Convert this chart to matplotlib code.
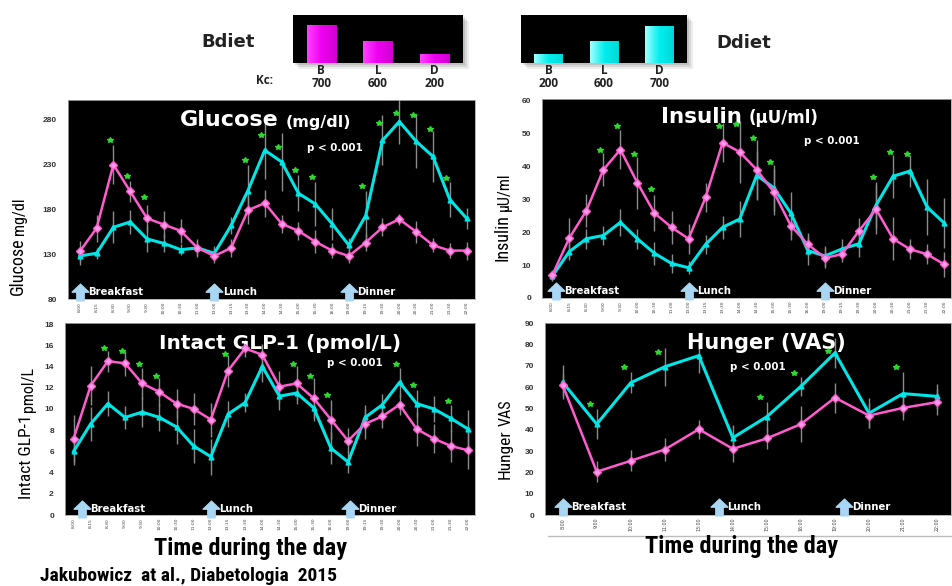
import numpy as np
import matplotlib
matplotlib.use('Agg')
import matplotlib.pyplot as plt
from matplotlib import font_manager
from matplotlib.path import Path
from matplotlib.transforms import blended_transform_factory
import matplotlib.patches as mpatches

_fonts = font_manager.fontManager.ttflist
_all_names = {f.name for f in _fonts}
_bold_names = {f.name for f in _fonts if f.weight in (700, 'bold')}
NARROW_KW = {'family': 'Liberation Sans'}
for cand in ['Liberation Sans Narrow', 'Arial Narrow', 'Archivo Narrow', 'Roboto Condensed',
             'PT Sans Narrow', 'Open Sans Condensed', 'IBM Plex Sans Condensed',
             'Fira Sans Condensed', 'Encode Sans Condensed', 'Sofia Sans Condensed',
             'Barlow Semi Condensed', 'Saira SemiCondensed']:
    if cand in _all_names and cand in _bold_names:
        NARROW_KW = {'family': cand}
        break
WIDE = 'DejaVu Sans'

# ---------------- data ----------------
times24 = ["8:00", "8:15", "8:30", "9:00", "9:30", "10:00", "10:30", "11:00",
           "13:00", "13:15", "13:30", "14:00", "14:30", "15:00", "15:30", "16:00",
           "19:00", "19:15", "19:30", "20:00", "20:30", "21:00", "21:30", "22:00"]
times12 = ["8:00", "9:00", "10:00", "11:00", "13:00", "14:00", "15:00", "16:00",
           "19:00", "20:00", "21:00", "22:00"]

inset_labels = ["B", "L", "D"]
bdiet_kcal = [700, 600, 200]
ddiet_kcal = [200, 600, 700]
bdiet_bar_height = [38, 22, 9]
ddiet_bar_height = [9, 22, 37]

glucose_b = [133, 159, 230, 200, 170, 163, 156, 137, 128, 137, 179, 187,
             164, 156, 144, 134, 128, 143, 160, 169, 155, 140, 134, 134]
glucose_b_err = [12, 15, 22, 12, 15, 15, 13, 10, 8, 10, 15, 15,
                 10, 10, 13, 8, 8, 10, 10, 6, 12, 8, 8, 10]
glucose_d = [128, 131, 160, 166, 147, 142, 135, 137, 131, 162, 201, 246,
             233, 198, 186, 164, 140, 173, 257, 278, 256, 239, 191, 170]
glucose_d_err = [10, 6, 18, 13, 15, 10, 6, 8, 8, 10, 28, 32,
                 32, 20, 25, 18, 8, 28, 28, 25, 30, 28, 20, 12]
glucose_star_idx = [2, 3, 4, 10, 11, 12, 13, 14, 17, 18, 19, 20, 21, 22]
glucose_star_val = [257, 217, 194, 235, 263, 250, 224, 216, 206, 276, 287, 285, 270, 215]

insulin_b = [6.9, 18.2, 26.5, 39, 45.1, 35, 25.8, 21.5, 18, 30.6, 47.2, 44.4,
             39, 32.2, 22, 16.3, 12.2, 13.3, 20.4, 27, 18, 14.8, 13.3, 10.2]
insulin_b_err = [1.5, 6, 5, 5, 6, 8, 5.5, 5, 4.5, 4.5, 6, 9.5,
                 9, 7, 4.5, 3.5, 3, 2.5, 4, 7.5, 6.5, 3, 3, 3.8]
insulin_d = [6.6, 14.1, 18, 19, 23, 18, 13.6, 10.5, 9.2, 16.3, 21.5, 24,
             37.3, 33.5, 25.8, 14.4, 12.8, 14.9, 16.5, 28.2, 37, 38.6, 27.6, 22.8]
insulin_d_err = [1.5, 2.5, 3, 3, 4, 3, 3.5, 3, 2, 3, 3.5, 5.5,
                 7.5, 7, 6.5, 4.5, 3, 3, 4, 7, 6.5, 5, 8.5, 7.5]
insulin_star_idx = [3, 4, 5, 6, 10, 11, 12, 13, 19, 20, 21]
insulin_star_val = [44.9, 52.3, 43.7, 33.2, 52.3, 53, 48.5, 41.3, 36.7, 44.4, 43.7]

glp_b = [7.2, 12.2, 14.5, 14.3, 12.4, 11.6, 10.5, 10.0, 9.0, 13.6, 15.7, 15.1,
         12.1, 12.4, 11.0, 9.0, 7.0, 8.6, 9.3, 10.4, 8.1, 7.2, 6.5, 6.1]
glp_b_err = [2.2, 1.8, 1.0, 1.2, 1.5, 1.3, 1.4, 1.5, 1.6, 1.5, 0.8, 1.0,
             1.5, 1.6, 1.9, 1.8, 1.2, 1.4, 1.1, 1.0, 1.6, 1.4, 1.5, 1.8]
glp_d = [6.0, 8.6, 10.5, 9.2, 9.7, 9.2, 8.3, 6.5, 5.5, 9.5, 10.6, 14.0,
         11.2, 11.5, 10.1, 6.3, 5.0, 9.2, 10.4, 12.5, 10.5, 10.0, 9.1, 8.1]
glp_d_err = [1.3, 1.6, 1.2, 1.1, 1.4, 1.3, 1.6, 1.6, 1.7, 1.2, 0.9, 1.5,
             1.3, 1.0, 1.2, 1.5, 1.0, 1.2, 1.0, 1.4, 1.3, 1.2, 1.3, 1.8]
glp_star_idx = [2, 3, 4, 5, 9, 13, 14, 15, 19, 20, 22]
glp_star_val = [15.7, 15.5, 14.2, 13.1, 15.2, 14.2, 13.1, 11.3, 14.2, 12.3, 10.7]

hunger_b = [60.9, 20.3, 25.4, 30.7, 40.2, 31.0, 35.9, 42.6, 55.0, 46.6, 50.2, 52.9]
hunger_b_err = [5, 5, 5, 5.5, 4.5, 6, 5, 8.5, 7, 6, 5.5, 6]
hunger_d = [62.2, 42.6, 62.0, 69.5, 74.7, 36.2, 46.1, 60.3, 76.0, 47.7, 56.9, 55.6]
hunger_d_err = [8, 7, 5, 9, 8, 6, 7, 4.5, 7, 7, 10, 6]
hunger_star_idx = [1, 2, 3, 6, 7, 8, 10]
hunger_star_val = [52.1, 69.6, 76.3, 55.3, 66.5, 76.8, 69.6]

meal_names = ["Breakfast", "Lunch", "Dinner"]

# ---------------- style ----------------
PINK = '#ff5ccf'
PINK_MFC = '#ff9be8'
CYAN = '#00e6e6'
ERR = '#8c8c8c'
STAR = '#2fd82f'
ARROW = '#a9d6f2'

W, H = 953, 586
fig = plt.figure(figsize=(W / 100, H / 100), dpi=100)
fig.patch.set_facecolor('white')


def px_rect(x0, y0, x1, y1):
    return [x0 / W, (H - y1) / H, (x1 - x0) / W, (y1 - y0) / H]


arrow_marker = Path([(-0.22, -0.5), (0.22, -0.5), (0.22, 0.02), (0.5, 0.02), (0.0, 0.5),
                     (-0.5, 0.02), (-0.22, 0.02), (-0.22, -0.5)],
                    [Path.MOVETO] + [Path.LINETO] * 6 + [Path.CLOSEPOLY])


def draw_panel(rect, xlabels, b, be, d, de, sidx, sval, ylim, yticks, xlim,
               meals_x, meal_y, xtfs=3.2):
    ax = fig.add_axes(rect, facecolor='black')
    x = np.arange(len(xlabels))
    ax.errorbar(x, b, yerr=be, fmt='none', ecolor=ERR, elinewidth=1.0, zorder=2)
    ax.errorbar(x, d, yerr=de, fmt='none', ecolor=ERR, elinewidth=1.0, zorder=2)
    ax.plot(x, d, color=CYAN, lw=2.2, marker='^', ms=3.5, zorder=3)
    ax.plot(x, b, color=PINK, lw=1.8, marker='D', ms=4, mfc=PINK_MFC, mec=PINK,
            mew=1.0, zorder=4)
    ax.plot(np.array(sidx) - 0.2, sval, ls='none', marker='*', color=STAR, ms=4, zorder=5)
    ax.set_xlim(*xlim)
    ax.set_ylim(*ylim)
    ax.set_xticks(x)
    ax.set_xticklabels(xlabels, rotation=90, fontsize=xtfs, color='#444444')
    ax.set_yticks(yticks)
    ax.set_yticklabels([str(v) for v in yticks], fontsize=6, fontweight='bold',
                       color='#333333', family='Liberation Sans')
    ax.tick_params(axis='x', length=0, pad=2)
    ax.tick_params(axis='y', length=0, pad=8)
    for s in ax.spines.values():
        s.set_color('#aaaaaa')
        s.set_linewidth(0.6)
    tr = blended_transform_factory(ax.transData, ax.transAxes)
    for name, mx in zip(meal_names, meals_x):
        ax.plot([mx], [meal_y], transform=tr, marker=arrow_marker, ms=12, color=ARROW,
                ls='none', clip_on=False, zorder=6)
        ax.annotate(name, xy=(mx, meal_y), xycoords=tr, xytext=(6, 0),
                    textcoords='offset points', va='center', ha='left', color='white',
                    fontsize=7.3, fontweight='bold', family=WIDE, zorder=6)
    return ax


def title(ax, fx, fy, big, small, bs, ss):
    t = ax.text(fx, fy, big, transform=ax.transAxes, color='white', fontsize=bs,
                fontweight='bold', family=WIDE, va='baseline', ha='left')
    if small:
        ax.annotate(small, xy=(1, 0), xycoords=t, xytext=(5, 0), textcoords='offset points',
                    color='white', fontsize=ss, fontweight='bold', family=WIDE,
                    va='bottom', ha='left')


def ptext(ax, fx, fy):
    ax.text(fx, fy, 'p < 0.001', transform=ax.transAxes, color='white', fontsize=7.4,
            fontweight='bold', family=WIDE, va='center', ha='left')


def ylabel(xpx, ybottom_px, big, small, bs, ss):
    t = fig.text(xpx / W, (H - ybottom_px) / H, big, rotation=90, ha='center', va='bottom',
                 fontsize=bs, color='black', **NARROW_KW)
    fig.add_artist(matplotlib.text.Annotation(
        small, xy=(0.6, 1), xycoords=t, xytext=(0, 2), textcoords='offset points',
        rotation=90, ha='center', va='bottom', fontsize=ss, color='black', **NARROW_KW))
    return t


# ---------------- panels ----------------
ax1 = draw_panel(px_rect(68, 100, 475, 299), times24, glucose_b, glucose_b_err, glucose_d,
                 glucose_d_err, glucose_star_idx, glucose_star_val, (80, 302),
                 [80, 130, 180, 230, 280], (-0.7, 23.5), [0, 8, 16], 0.035)
title(ax1, 0.275, 0.87, 'Glucose', '(mg/dl)', 16, 11.5)
ptext(ax1, 0.588, 0.76)

ax2 = draw_panel(px_rect(542, 99, 951, 298), times24, insulin_b, insulin_b_err, insulin_d,
                 insulin_d_err, insulin_star_idx, insulin_star_val, (0, 60.5),
                 [0, 10, 20, 30, 40, 50, 60], (-0.6, 23.4), [0.2, 8, 16], 0.035)
title(ax2, 0.29, 0.88, 'Insulin', '(µU/ml)', 15.5, 12)
ptext(ax2, 0.64, 0.79)

ax3 = draw_panel(px_rect(65, 323, 475, 515), times24, glp_b, glp_b_err, glp_d,
                 glp_d_err, glp_star_idx, glp_star_val, (0, 18.1),
                 list(range(0, 19, 2)), (-0.5, 23.4), [0.5, 8, 16.1], 0.03)
title(ax3, 0.23, 0.865, 'Intact GLP-1 (pmol/L)', None, 14.5, 0)
ptext(ax3, 0.64, 0.79)

ax4 = draw_panel(px_rect(545, 323, 951, 515), times12, hunger_b, hunger_b_err, hunger_d,
                 hunger_d_err, hunger_star_idx, hunger_star_val, (0, 90),
                 list(range(0, 91, 10)), (-0.52, 11.41), [0, 4.6, 8.26], 0.04, xtfs=3.4)
title(ax4, 0.35, 0.865, 'Hunger (VAS)', None, 15, 0)
ptext(ax4, 0.455, 0.77)

# y labels
ylabel(18, 295, 'Glucose', 'mg/dl', 13, 11.5)
ylabel(503, 261, 'Insulin', 'µU/ml', 13, 11.5)
ylabel(27, 499, 'Intact GLP-1', 'pmol/L', 12.5, 11.5)
ylabel(505, 479, 'Hunger', 'VAS', 12.5, 11.5)

# bottom texts
fig.text(251 / W, (H - 548) / H, 'Time during the day', ha='center', va='center',
         fontsize=17.5, fontweight='bold', **NARROW_KW)
fig.text(742 / W, (H - 546) / H, 'Time during the day', ha='center', va='center',
         fontsize=17.5, fontweight='bold', **NARROW_KW)
fig.text(40 / W, (H - 576) / H, 'Jakubowicz  at al., Diabetologia  2015', ha='left',
         va='center', fontsize=14, fontweight='bold', **NARROW_KW)
fig.add_artist(matplotlib.lines.Line2D([548 / W, 1.0], [(H - 536) / H] * 2,
                                       color='#bdbdbd', lw=1.0))


# ---------------- insets ----------------
def inset(rect_px, heights, kcal, cmap_colors):
    x0, y0, x1, y1 = rect_px
    for k, a in [(6, 0.10), (4, 0.14), (2, 0.18)]:
        fig.add_artist(mpatches.Rectangle(((x0 + k) / W, (H - y1 - k) / H), (x1 - x0) / W,
                                          (y1 - y0) / H, transform=fig.transFigure,
                                          color='#555555', alpha=a, lw=0, zorder=0))
    ax = fig.add_axes(px_rect(*rect_px), facecolor='black')
    xs = np.arange(3)
    ax.bar(xs, heights, width=0.52, color=cmap_colors[1], zorder=2)
    grad = np.linspace(0, 1, 50).reshape(1, -1)
    cm = matplotlib.colors.LinearSegmentedColormap.from_list('g', cmap_colors)
    for bx, hh in zip(xs, heights):
        ax.imshow(grad, extent=[bx - 0.26, bx + 0.26, 0, hh], aspect='auto', cmap=cm,
                  zorder=3, interpolation='bilinear')
    ax.set_xlim(-0.5, 2.5)
    ax.set_ylim(0, 48)
    ax.set_xticks(xs)
    ax.set_xticklabels([f"{l}\n{v}" for l, v in zip(inset_labels, kcal)], fontsize=8.5,
                       fontweight='bold', family='Open Sans', linespacing=1.0,
                       color='#222222')
    ax.tick_params(axis='x', length=0, pad=1)
    ax.set_yticks([])
    for s in ax.spines.values():
        s.set_visible(False)
    return ax


inset((293, 15, 463, 63), bdiet_bar_height, bdiet_kcal, ['#ff40ff', '#ee00ee', '#d000d0'])
inset((521, 15, 687, 63), ddiet_bar_height, ddiet_kcal, ['#a0ffff', '#00eeee', '#00d8d8'])

fig.text(228 / W, (H - 42) / H, 'Bdiet', ha='center', va='center', fontsize=13,
         fontweight='bold', family=WIDE, color='#222222')
fig.text(744 / W, (H - 43) / H, 'Ddiet', ha='center', va='center', fontsize=13,
         fontweight='bold', family=WIDE, color='#222222')
fig.text(265 / W, (H - 80) / H, 'Kc:', ha='center', va='center', fontsize=8.5,
         fontweight='bold', family='Open Sans', color='#222222')

fig.savefig('out.png', dpi=100, facecolor='white')
